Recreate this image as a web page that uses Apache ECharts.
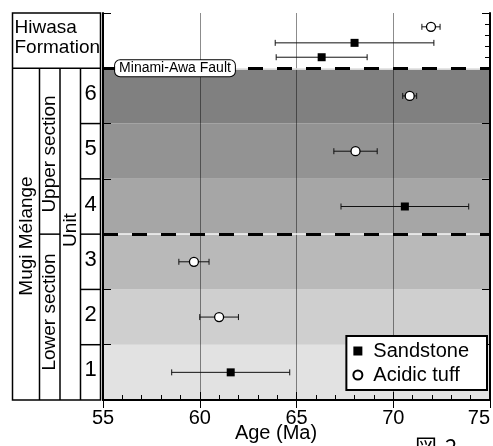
<!DOCTYPE html>
<html>
<head>
<meta charset="utf-8">
<script src="https://cdn.jsdelivr.net/npm/echarts@6.0.0/dist/echarts.min.js"></script>
<style>
  html, body { margin: 0; padding: 0; background: #fff; }
  #chart { width: 493px; height: 446px; }
</style>
</head>
<body>
<div id="chart"></div>
<script>
// ages (Ma), errors and stratigraphic level (row 0..7, Hiwasa = 6..7)
const sandstoneAge = [68.0, 66.3, 70.6, 61.6];
const sandstoneErr = [4.1, 2.35, 3.3, 3.05];
const sandstoneLevel = [6.46, 6.2, 3.5, 0.5];

const tuffAge = [71.95, 70.85, 68.05, 59.7, 61.0];
const tuffErr = [0.47, 0.36, 1.12, 0.78, 1.0];
const tuffLevel = [6.75, 5.5, 4.5, 2.5, 1.5];

const units = ["1", "2", "3", "4", "5", "6"];
const bandColors = ["#e2e2e2", "#cfcfcf", "#b9b9b9", "#a6a6a6", "#939393", "#808080", "#ffffff"];
const boundaries = [3, 6]; // upper/lower section, Minami-Awa Fault
const hiwasaTicks = [6.2, 6.4, 6.6, 6.8];

const FONT = "'Liberation Sans', Arial, sans-serif";

const chart = echarts.init(document.getElementById("chart"));

const errorData = sandstoneAge
  .map((a, i) => [a - sandstoneErr[i], a + sandstoneErr[i], sandstoneLevel[i]])
  .concat(tuffAge.map((a, i) => [a - tuffErr[i], a + tuffErr[i], tuffLevel[i]]));

const yBase = {
  min: 0,
  max: 7,
  interval: 1,
  axisLine: { show: true, lineStyle: { color: "#000", width: 2 } },
  axisLabel: { show: false },
  splitLine: { show: false },
};

const option = {
  animation: false,
  grid: { left: 103, right: 3, top: 13, bottom: 46 },
  xAxis: [
    {
      type: "value",
      min: 55,
      max: 75,
      interval: 5,
      axisLine: { show: true, lineStyle: { color: "#000", width: 2 } },
      axisTick: { show: true, inside: true, length: 8, lineStyle: { color: "#000" } },
      minorTick: { show: true, splitNumber: 5, length: 5, lineStyle: { color: "#000" } },
      splitLine: { show: true, lineStyle: { color: "rgba(0,0,0,0.45)", width: 1 } },
      axisLabel: {
        fontSize: 20,
        color: "#000",
        fontFamily: FONT,
        margin: 8,
        alignMaxLabel: "right",
      },
    },
    {
      type: "value",
      position: "top",
      min: 55,
      max: 75,
      interval: 5,
      axisLine: { show: true, lineStyle: { color: "#000", width: 2 } },
      axisTick: { show: true, inside: true, length: 8, lineStyle: { color: "#000" } },
      axisLabel: { show: false },
      splitLine: { show: false },
    },
  ],
  yAxis: [
    Object.assign({}, yBase, {
      position: "left",
      axisTick: { show: true, inside: true, length: 8, lineStyle: { color: "#000" } },
    }),
    Object.assign({}, yBase, {
      position: "right",
      axisTick: { show: true, inside: true, length: 8, lineStyle: { color: "#000" } },
    }),
    Object.assign({}, yBase, {
      position: "right",
      axisLine: { show: false },
      axisTick: {
        show: true,
        inside: true,
        length: 5,
        customValues: hiwasaTicks,
        lineStyle: { color: "#000" },
      },
    }),
  ],
  legend: {
    orient: "vertical",
    right: 6,
    bottom: 56,
    data: ["Sandstone", "Acidic tuff"],
    backgroundColor: "#fff",
    borderColor: "#000",
    borderWidth: 2,
    borderRadius: 0,
    padding: [4, 18, 4, 6],
    itemGap: 2,
    itemWidth: 9,
    itemHeight: 9,
    selectedMode: false,
    textStyle: { fontSize: 20, color: "#000", fontFamily: FONT, lineHeight: 22, padding: [0, 0, 0, 6] },
  },
  series: [
    {
      // row shading
      type: "custom",
      z: -1,
      silent: true,
      data: bandColors.map((c, i) => [i, i + 1]),
      encode: { y: [0, 1] },
      renderItem: (params, api) => {
        const cs = params.coordSys;
        const yTop = api.coord([55, api.value(1)])[1];
        const yBot = api.coord([55, api.value(0)])[1];
        return {
          type: "rect",
          shape: { x: cs.x, y: yTop, width: cs.width, height: yBot - yTop },
          style: { fill: bandColors[params.dataIndex] },
        };
      },
      markLine: {
        silent: true,
        symbol: "none",
        label: { show: false },
        lineStyle: { color: "#f4f4f4", width: 1.5, type: "solid" },
        data: boundaries.map((v) => ({ yAxis: v })),
      },
    },
    {
      // error bars
      type: "custom",
      z: 3,
      silent: true,
      data: errorData,
      encode: { x: [0, 1], y: 2 },
      renderItem: (params, api) => {
        const lo = api.coord([api.value(0), api.value(2)]);
        const hi = api.coord([api.value(1), api.value(2)]);
        const cap = 3;
        const st = { stroke: "#111", lineWidth: 1 };
        return {
          type: "group",
          children: [
            { type: "line", shape: { x1: lo[0], y1: lo[1], x2: hi[0], y2: hi[1] }, style: st },
            { type: "line", shape: { x1: lo[0], y1: lo[1] - cap, x2: lo[0], y2: lo[1] + cap }, style: st },
            { type: "line", shape: { x1: hi[0], y1: hi[1] - cap, x2: hi[0], y2: hi[1] + cap }, style: st },
          ],
        };
      },
    },
    {
      name: "Sandstone",
      type: "scatter",
      z: 4,
      symbol: "rect",
      symbolSize: 8,
      itemStyle: { color: "#000", opacity: 1 },
      data: sandstoneAge.map((a, i) => [a, sandstoneLevel[i]]),
      markLine: {
        silent: true,
        symbol: "none",
        label: { show: false },
        lineStyle: { color: "#000", width: 3, type: [15, 14] },
        data: boundaries.map((v) => ({ yAxis: v })),
      },
    },
    {
      name: "Acidic tuff",
      type: "scatter",
      z: 5,
      symbol: "circle",
      symbolSize: 9,
      itemStyle: { color: "#fff", borderColor: "#000", borderWidth: 1.3, opacity: 1 },
      data: tuffAge.map((a, i) => [a, tuffLevel[i]]),
    },
  ],
};

chart.setOption(option);

// stratigraphic table on the left, aligned to the y axis
const yPx = (v) => chart.convertToPixel({ yAxisIndex: 0 }, v);
const lineStyle = { stroke: "#000", lineWidth: 1.5 };
const tableLeft = 12.5;
const tableRight = 100.5;
const colX = [39.5, 60, 80.5];
const els = [];

els.push({
  type: "rect",
  shape: { x: tableLeft, y: yPx(7), width: tableRight - tableLeft, height: yPx(0) - yPx(7) },
  style: { fill: "#fff", stroke: "#000", lineWidth: 1.5 },
});
els.push({ type: "line", shape: { x1: tableLeft, y1: yPx(6), x2: tableRight, y2: yPx(6) }, style: lineStyle });
colX.forEach((x) => {
  els.push({ type: "line", shape: { x1: x, y1: yPx(6), x2: x, y2: yPx(0) }, style: lineStyle });
});
els.push({ type: "line", shape: { x1: colX[0], y1: yPx(3), x2: colX[1], y2: yPx(3) }, style: lineStyle });
for (let i = 1; i < units.length; i++) {
  els.push({ type: "line", shape: { x1: colX[2], y1: yPx(i), x2: tableRight, y2: yPx(i) }, style: lineStyle });
}
units.forEach((u, i) => {
  els.push({
    type: "text",
    x: 90.5,
    y: (yPx(i) + yPx(i + 1)) / 2 - 2,
    style: { text: u, fill: "#000", font: "22px " + FONT, align: "center", verticalAlign: "middle" },
  });
});

function label(text, x, y, size, rot, align) {
  return {
    type: "text",
    x: x,
    y: y,
    rotation: rot || 0,
    style: {
      text: text,
      fill: "#000",
      font: size + "px " + FONT,
      align: align || "center",
      verticalAlign: "middle",
    },
  };
}

els.push(label("Hiwasa", 14.5, 27.5, 19, 0, "left"));
els.push(label("Formation", 14.5, 47.5, 19, 0, "left"));
els.push(label("Mugi Mélange", 26.5, 236, 19, Math.PI / 2));
els.push(label("Upper section", 50, 154, 19, Math.PI / 2));
els.push(label("Lower section", 50, 312, 19, Math.PI / 2));
els.push(label("Unit", 70.5, 230, 19, Math.PI / 2));

// x axis name
els.push(label("Age (Ma)", 276, 433, 20, 0));

// fault label
els.push({
  type: "text",
  x: 175,
  y: yPx(6),
  z: 100,
  style: {
    text: "Minami-Awa Fault",
    fill: "#000",
    font: "14px " + FONT,
    align: "center",
    verticalAlign: "middle",
    backgroundColor: "#fff",
    borderColor: "#000",
    borderWidth: 1,
    borderRadius: 5,
    padding: [1, 4, 1, 4],
  },
});

// figure caption, cut by the page edge
els.push({
  type: "text",
  x: 415,
  y: 436,
  style: { text: "図", fill: "#000", font: "22px 'Noto Sans CJK JP'", align: "left", verticalAlign: "top" },
});
els.push({
  type: "text",
  x: 445,
  y: 436,
  style: { text: "2", fill: "#000", font: "22px 'Noto Sans CJK JP'", align: "left", verticalAlign: "top" },
});

chart.setOption({ graphic: { elements: els } });
</script>
</body>
</html>
